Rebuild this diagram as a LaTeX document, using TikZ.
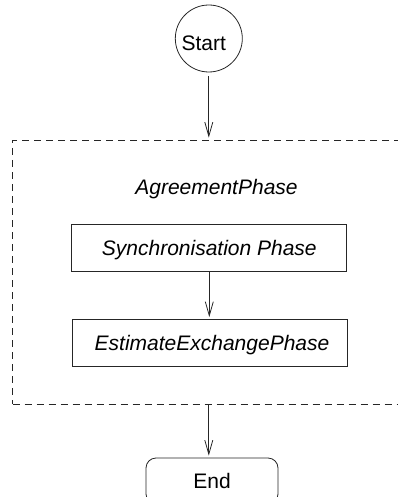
\documentclass[tikz,border=0pt]{standalone}
\usepackage{fontspec}
\setmainfont{Liberation Sans}
\usetikzlibrary{arrows.meta}
\begin{document}
\begin{tikzpicture}[x=1pt,y=-1pt,
  every node/.style={font=\fontsize{21}{25}\selectfont, text height=15pt, text depth=0pt, inner sep=0pt},
  ln/.style={draw=black!85, line width=0.8pt},
  flow/.style={ln, -{Straight Barb[length=14pt,width=8pt]}, shorten >=2pt},
  phasebox/.style={ln, rectangle, minimum width=275pt, minimum height=47pt, font=\fontsize{21}{25}\selectfont\itshape},
  groupbox/.style={ln, dashed, dash pattern=on 7pt off 5pt, rectangle, minimum width=410pt, minimum height=264pt},
  startnode/.style={ln, circle, minimum size=67pt},
  endnode/.style={ln, rectangle, rounded corners=10pt, minimum width=132pt, minimum height=46pt}
]
\clip (0,0) rectangle (398,497);

% initial state
\node[startnode] (start) at (208.8,38.5) {};
\node (starttxt) at (203.8,43) {Start};

% composite phase (its right side runs past the page edge) with two sub-phases
\node[groupbox] (agree) at (217.7,272) {};
\node[font=\fontsize{21}{25}\selectfont\itshape] (agreetxt) at (216.5,186.7) {AgreementPhase};
\node[phasebox] (sync) at (209.3,248) {Synchronisation Phase};
\node[phasebox] (est) at (209.5,343) {\hspace*{5pt}EstimateExchangePhase};

% final state
\node[endnode] (end) at (212,481) {End};

% transitions
\draw[flow, shorten <=4pt] (start.south) -- (start.south |- agree.north);
\draw[flow] (sync.south) -- (sync.south |- est.north);
\draw[flow] (start.south |- agree.south) -- (start.south |- end.north);
\end{tikzpicture}
\end{document}
